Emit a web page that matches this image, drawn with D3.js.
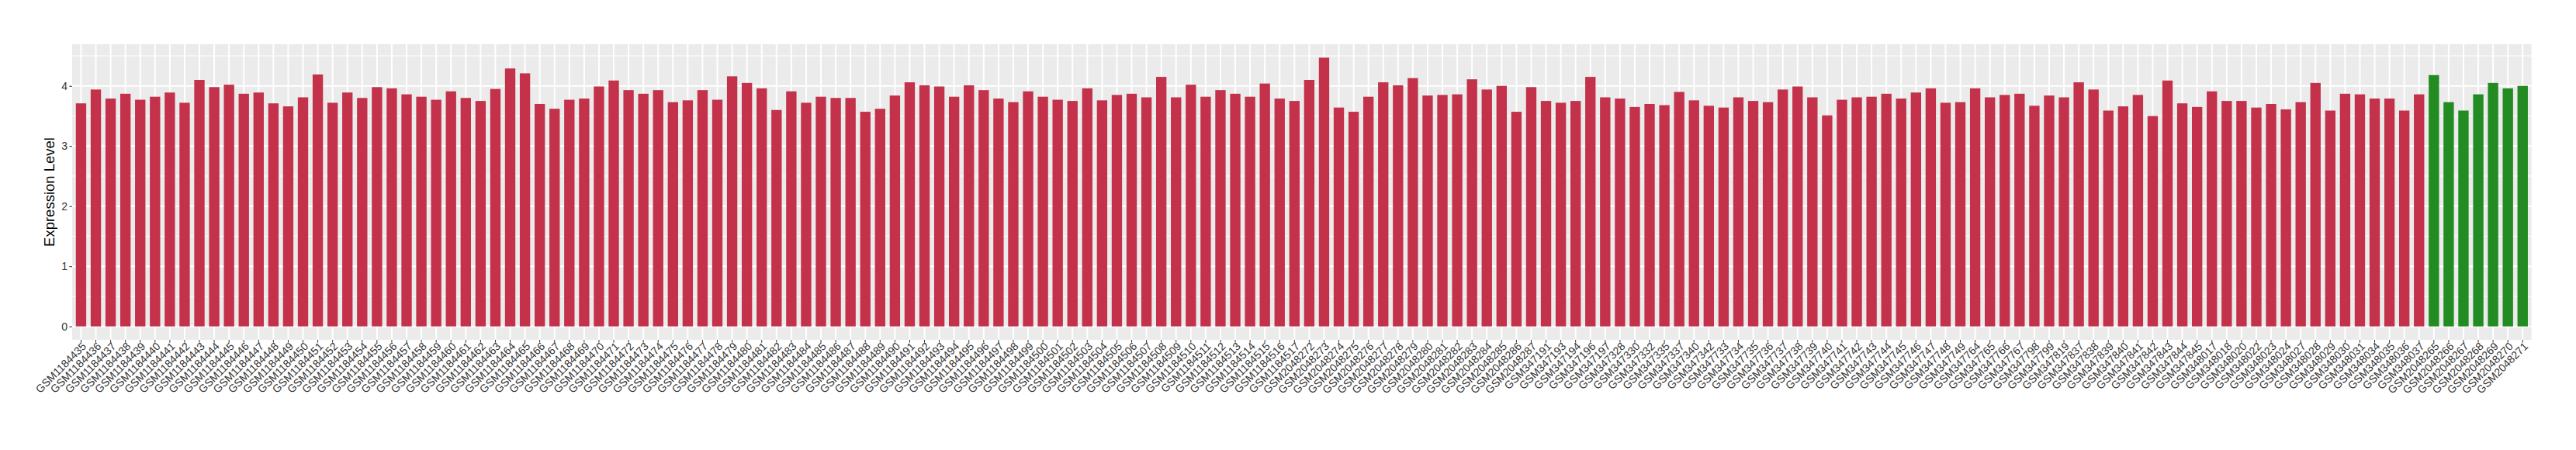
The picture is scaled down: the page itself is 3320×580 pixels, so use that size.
<!DOCTYPE html>
<html>
<head>
<meta charset="utf-8">
<title>Expression Level</title>
<style>
  body { margin: 0; background: #fff; }
  text { font-family: "Liberation Sans", Arial, sans-serif; }
</style>
</head>
<body>
<div id="chart"></div>
<script src="https://d3js.org/d3.v7.min.js"></script>
<script>
// sample ids, left to right
var samples = [
  "GSM1184435","GSM1184436","GSM1184437","GSM1184438","GSM1184439","GSM1184440","GSM1184441","GSM1184442","GSM1184443","GSM1184444",
  "GSM1184445","GSM1184446","GSM1184447","GSM1184448","GSM1184449","GSM1184450","GSM1184451","GSM1184452","GSM1184453","GSM1184454",
  "GSM1184455","GSM1184456","GSM1184457","GSM1184458","GSM1184459","GSM1184460","GSM1184461","GSM1184462","GSM1184463","GSM1184464",
  "GSM1184465","GSM1184466","GSM1184467","GSM1184468","GSM1184469","GSM1184470","GSM1184471","GSM1184472","GSM1184473","GSM1184474",
  "GSM1184475","GSM1184476","GSM1184477","GSM1184478","GSM1184479","GSM1184480","GSM1184481","GSM1184482","GSM1184483","GSM1184484",
  "GSM1184485","GSM1184486","GSM1184487","GSM1184488","GSM1184489","GSM1184490","GSM1184491","GSM1184492","GSM1184493","GSM1184494",
  "GSM1184495","GSM1184496","GSM1184497","GSM1184498","GSM1184499","GSM1184500","GSM1184501","GSM1184502","GSM1184503","GSM1184504",
  "GSM1184505","GSM1184506","GSM1184507","GSM1184508","GSM1184509","GSM1184510","GSM1184511","GSM1184512","GSM1184513","GSM1184514",
  "GSM1184515","GSM1184516","GSM1184517",
  "GSM2048272","GSM2048273","GSM2048274","GSM2048275","GSM2048276","GSM2048277","GSM2048278","GSM2048279","GSM2048280","GSM2048281",
  "GSM2048282","GSM2048283","GSM2048284","GSM2048285","GSM2048286","GSM2048287",
  "GSM347191","GSM347193","GSM347194","GSM347196","GSM347197","GSM347328","GSM347330","GSM347332","GSM347335","GSM347337",
  "GSM347340","GSM347342",
  "GSM347733","GSM347734","GSM347735","GSM347736","GSM347737","GSM347738","GSM347739","GSM347740","GSM347741","GSM347742",
  "GSM347743","GSM347744","GSM347745","GSM347746","GSM347747","GSM347748","GSM347749","GSM347764","GSM347765","GSM347766",
  "GSM347767","GSM347798","GSM347799","GSM347819","GSM347837","GSM347838","GSM347839","GSM347840","GSM347841","GSM347842",
  "GSM347843","GSM347844","GSM347845",
  "GSM348017","GSM348018","GSM348020","GSM348022","GSM348023","GSM348024","GSM348027","GSM348028","GSM348029","GSM348030",
  "GSM348031","GSM348034","GSM348035","GSM348036","GSM348037",
  "GSM2048265","GSM2048266","GSM2048267","GSM2048268","GSM2048269","GSM2048270","GSM2048271"
];

// expression level per sample (same order)
var expression = [
  3.71,3.94,3.79,3.87,3.77,3.82,3.89,3.72,4.10,3.98,
  4.02,3.87,3.89,3.71,3.66,3.81,4.19,3.72,3.89,3.80,
  3.98,3.96,3.86,3.82,3.77,3.91,3.80,3.75,3.95,4.29,
  4.21,3.70,3.62,3.77,3.79,3.99,4.09,3.93,3.87,3.93,
  3.73,3.76,3.93,3.77,4.16,4.05,3.96,3.60,3.91,3.72,
  3.82,3.80,3.80,3.57,3.62,3.84,4.06,4.01,3.99,3.82,
  4.01,3.93,3.79,3.73,3.91,3.82,3.77,3.75,3.96,3.76,
  3.85,3.87,3.81,4.15,3.81,4.02,3.82,3.93,3.87,3.82,
  4.04,3.79,3.75,
  4.10,4.47,3.64,3.57,3.82,4.06,4.01,4.13,3.84,3.85,
  3.86,4.11,3.94,4.00,3.57,3.98,
  3.75,3.72,3.75,4.15,3.81,3.79,3.65,3.70,3.68,3.90,
  3.76,3.67,
  3.64,3.81,3.75,3.73,3.94,3.99,3.81,3.51,3.77,3.81,
  3.82,3.87,3.79,3.89,3.96,3.72,3.73,3.96,3.81,3.85,
  3.87,3.67,3.84,3.81,4.06,3.94,3.59,3.66,3.85,3.50,
  4.09,3.71,3.65,
  3.91,3.75,3.75,3.64,3.70,3.61,3.73,4.05,3.59,3.87,
  3.86,3.79,3.79,3.59,3.86,
  4.18,3.73,3.59,3.86,4.05,3.96,4.00
];

// samples drawn in green
var greenSamples = ["GSM2048265","GSM2048266","GSM2048267","GSM2048268","GSM2048269","GSM2048270","GSM2048271"];
var yTicks = [0, 1, 2, 3, 4];
var yMinor = [0.5, 1.5, 2.5, 3.5, 4.5];

var W = 3320, H = 580;
var margin = {top: 57, right: 57.3, bottom: 142, left: 93};
var width = W - margin.left - margin.right,
    height = H - margin.top - margin.bottom;

var data = samples.map(function(s, i) { return {name: s, value: expression[i]}; });

var svg = d3.select("#chart").append("svg")
    .attr("width", W)
    .attr("height", H)
  .append("g")
    .attr("transform", "translate(" + margin.left + "," + margin.top + ")");

// ggplot style: bar width 0.7, 0.6 expansion on each side
var x = d3.scaleBand()
    .domain(samples)
    .range([0, width])
    .paddingInner(0.3)
    .paddingOuter(0.25);

var yMax = d3.max(expression);
var y = d3.scaleLinear()
    .domain([-0.05 * yMax, 1.05 * yMax])
    .range([height, 0]);

// panel
svg.append("rect")
    .attr("width", width)
    .attr("height", height)
    .attr("fill", "#EBEBEB");

svg.selectAll(".minor")
    .data(yMinor)
  .enter().append("line")
    .attr("x1", 0).attr("x2", width)
    .attr("y1", function(d) { return y(d); })
    .attr("y2", function(d) { return y(d); })
    .attr("stroke", "#fff").attr("stroke-width", 1);

svg.selectAll(".major")
    .data(yTicks)
  .enter().append("line")
    .attr("x1", 0).attr("x2", width)
    .attr("y1", function(d) { return y(d); })
    .attr("y2", function(d) { return y(d); })
    .attr("stroke", "#fff").attr("stroke-width", 2);

svg.selectAll(".vgrid")
    .data(samples)
  .enter().append("line")
    .attr("x1", function(d) { return x(d) + x.bandwidth() / 2; })
    .attr("x2", function(d) { return x(d) + x.bandwidth() / 2; })
    .attr("y1", 0).attr("y2", height)
    .attr("stroke", "#fff").attr("stroke-width", 2);

// bars
svg.selectAll(".bar")
    .data(data)
  .enter().append("rect")
    .attr("x", function(d) { return x(d.name); })
    .attr("width", x.bandwidth())
    .attr("y", function(d) { return y(d.value); })
    .attr("height", function(d) { return y(0) - y(d.value); })
    .attr("fill", function(d) { return greenSamples.indexOf(d.name) >= 0 ? "#228B22" : "#C3324A"; });

// axes
var yAxis = svg.append("g")
    .call(d3.axisLeft(y).tickValues(yTicks).tickFormat(d3.format("d")).tickSize(3.7).tickPadding(2.3));
yAxis.select(".domain").remove();
yAxis.selectAll("line").attr("stroke", "#333");
yAxis.selectAll("text").attr("font-size", 14).attr("fill", "#333");

var xAxis = svg.append("g")
    .attr("transform", "translate(0," + height + ")")
    .call(d3.axisBottom(x).tickSize(3.7));
xAxis.select(".domain").remove();
xAxis.selectAll("line").attr("stroke", "#333");
xAxis.selectAll("text")
    .attr("font-size", 14).attr("fill", "#333")
    .attr("text-anchor", "end")
    .attr("y", 0).attr("x", 0).attr("dy", "0.72em")
    .attr("transform", "translate(0.5,2) rotate(-45)");

svg.append("text")
    .attr("transform", "translate(" + (70 - margin.left) + "," + (height / 2) + ") rotate(-90)")
    .attr("text-anchor", "middle")
    .attr("font-size", 18.5)
    .attr("fill", "#000")
    .text("Expression Level");
</script>
</body>
</html>
